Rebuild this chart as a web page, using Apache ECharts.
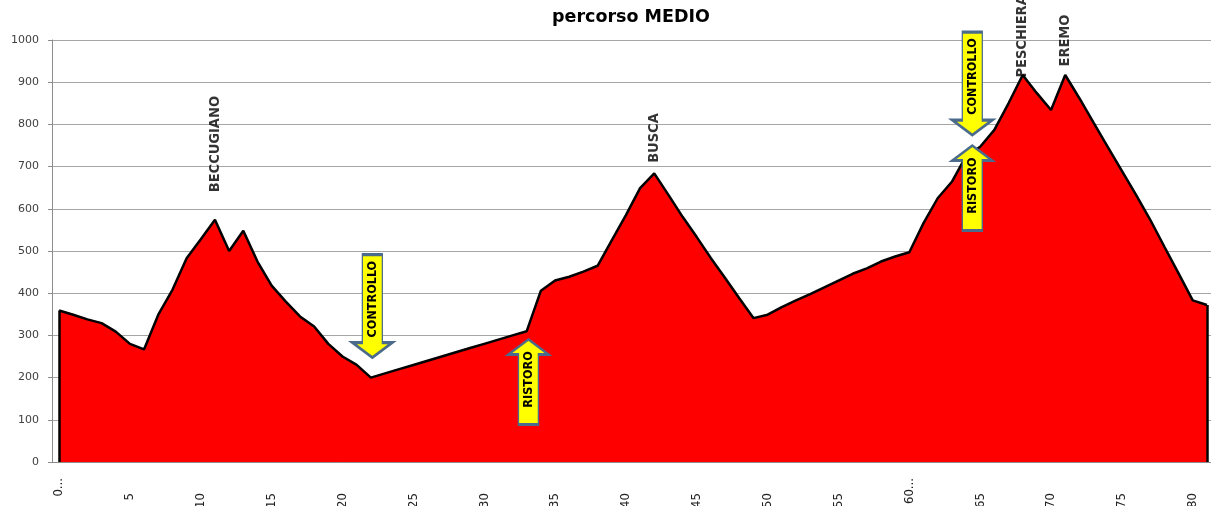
<!DOCTYPE html>
<html>
<head>
<meta charset="utf-8">
<script src="https://cdn.jsdelivr.net/npm/echarts@6/dist/echarts.min.js"></script>
<style>
html,body{margin:0;padding:0;background:#fff;}
#chart{width:1211px;height:506px;}
</style>
</head>
<body>
<div id="chart"></div>
<script>
// Category labels (km)
const kmLabels = ['0...','1','2','3','4','5','6','7','8','9','10','11','12','13','14','15','16','17','18','19',
  '20','21','22','23','24','25','26','27','28','29','30','31','32','33','34','35','36','37','38','39',
  '40','41','42','43','44','45','46','47','48','49','50','51','52','53','54','55','56','57','58','59',
  '60...','61','62','63','64','65','66','67','68','69','70','71','72','73','74','75','76','77','78','79','80','81'];

// Elevation (m) per category
const elevation = [359,349,338,329,309,280,267,349,408,483,528,574,500,548,475,418,380,345,321,280,
  250,230,200,210,220,230,240,250,260,270,280,290,300,310,406,430,439,451,465,525,
  585,649,684,633,581,533,483,436,388,341,349,367,383,398,414,430,446,459,475,487,
  497,566,625,664,725,747,787,850,917,874,834,917,862,804,747,690,633,574,510,447,383,372];

// Y-axis ticks
const yMin = 0, yMax = 1000, yStep = 100;

// Place names at peaks
const peakNames = ['BECCUGIANO','BUSCA','PESCHIERA','EREMO'];
const peakIndex = [11, 42, 68, 71];

// Arrow annotations
const arrowTexts = ['CONTROLLO','RISTORO','CONTROLLO','RISTORO'];
const arrowIndex = [22, 33, 64, 64];
const arrowDir = ['down','up','down','up'];

const chart = echarts.init(document.getElementById('chart'), null, {renderer:'canvas'});

const narrow = "'Liberation Sans Narrow','DejaVu Sans Condensed','Arial Narrow',sans-serif";

// styling (pixel) for annotations
const peakGap = [27, 10, -3, 8];
const arrowDown = 'path://M10,0 L30,0 L30,88 L40,88 L20,103 L0,88 L10,88 Z';
const arrowUp = 'path://M20,0 L40,15 L30,15 L30,85 L10,85 L10,15 L0,15 Z';
const arrowOffsets = [[1.5,-71.5],[1.7,50.8],[6.3,-72.5],[6.3,32]];

const peakData = peakNames.map((n,i)=>({
  name: n,
  value: [peakIndex[i], elevation[peakIndex[i]]],
  label: {distance: peakGap[i]}
}));

const arrowData = arrowTexts.map((t,i)=>({
  name: t,
  value: [arrowIndex[i], elevation[arrowIndex[i]]],
  symbol: arrowDir[i]==='down' ? arrowDown : arrowUp,
  symbolSize: arrowDir[i]==='down' ? [40,103] : [40,85],
  symbolOffset: arrowOffsets[i],
  label: {offset: arrowDir[i]==='down' ? [7,0] : [2.5,0]}
}));

const xCats = kmLabels.map(l => ({
  value: l,
  textStyle: {padding: l.endsWith('...') ? [0,0,0,0] : [0,15,0,0]}
}));

chart.setOption({
  animation: false,
  title: {
    text: 'percorso MEDIO',
    left: 547, top: 3,
    textStyle: {fontFamily:"'DejaVu Sans',sans-serif", fontWeight:'bold', fontSize:17.5, color:'#000'}
  },
  grid: {left: 52, top: 40, height: 422, width: 1162, containLabel: false, outerBoundsMode: 'none'},
  xAxis: {
    type: 'category',
    data: xCats,
    boundaryGap: true,
    axisLine: {lineStyle:{color:'#8c8c8c', width:1}},
    axisTick: {show:true, inside:true, length:4, interval:9, lineStyle:{color:'#8c8c8c'}},
    axisLabel: {interval:4, rotate:90, margin:16, fontFamily: narrow, fontSize:13, color:'#222', hideOverlap:false},
    splitLine: {show:false}
  },
  yAxis: {
    type: 'value',
    min: yMin, max: yMax, interval: yStep,
    axisLine: {show:true, lineStyle:{color:'#8c8c8c', width:1}},
    axisTick: {show:true, inside:false, length:4, lineStyle:{color:'#8c8c8c'}},
    axisLabel: {margin:13, fontFamily:"'DejaVu Sans',sans-serif", fontSize:11, color:'#404040', formatter: v => String(v)},
    splitLine: {lineStyle:{color:'#a6a6a6', width:1}}
  },
  series: [
    {
      type: 'line',
      data: elevation,
      symbol: 'none',
      lineStyle: {color:'#000', width:2.5},
      areaStyle: {color:'#ff0000', opacity:1},
      z: 2,
      markLine: {
        silent: true,
        symbol: ['none','none'],
        label: {show:false},
        lineStyle: {color:'#000', width:2.5, type:'solid'},
        data: [
          [{coord:[0, 0]}, {coord:[0, elevation[0]]}],
          [{coord:[kmLabels.length-1, 0]}, {coord:[kmLabels.length-1, elevation[elevation.length-1]]}]
        ]
      }
    },
    {
      type: 'scatter',
      data: peakData,
      symbolSize: 1,
      itemStyle: {color:'rgba(0,0,0,0)'},
      z: 5,
      label: {
        show: true, formatter: '{b}', position: 'top', rotate: 90,
        align: 'left', verticalAlign: 'middle',
        fontFamily: narrow, fontWeight: 'bold', fontSize: 14.5, color: '#000'
      }
    },
    {
      type: 'scatter',
      data: arrowData,
      z: 6,
      itemStyle: {color:'#ffff00', borderColor:'#4a6b8c', borderWidth:2, opacity:1},
      label: {
        show: true, formatter: '{b}', position: 'inside', rotate: 90,
        align: 'center', verticalAlign: 'middle',
        fontFamily: narrow, fontWeight: 'bold', fontSize: 12.5, color: '#000'
      }
    }
  ]
});
</script>
</body>
</html>
